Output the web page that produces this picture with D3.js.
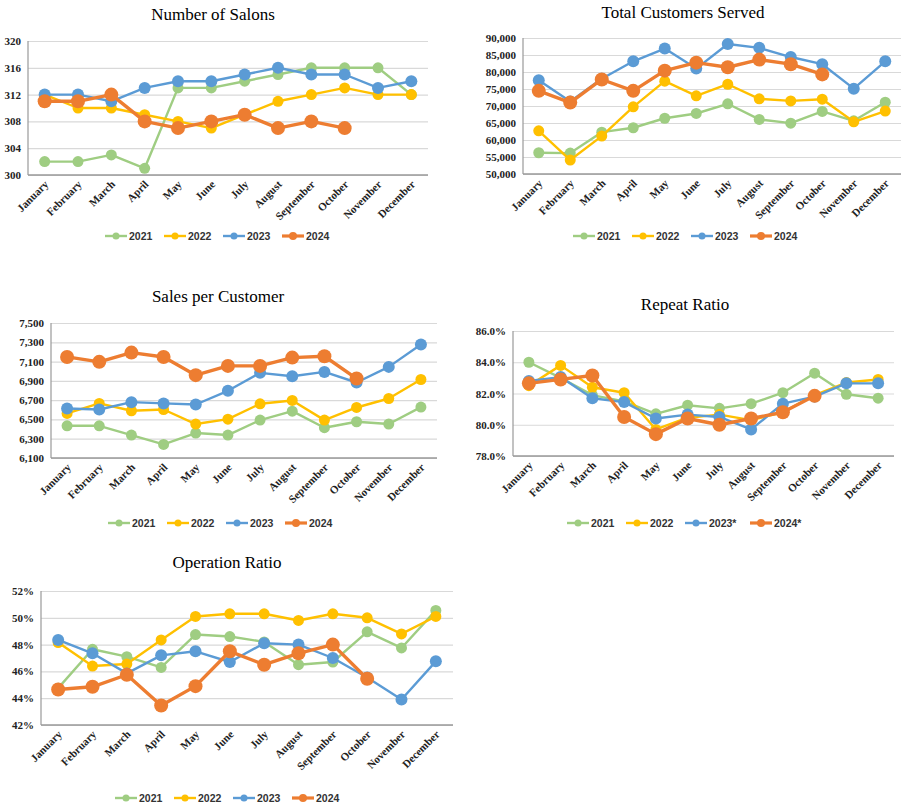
<!DOCTYPE html>
<html><head><meta charset="utf-8">
<script src="https://cdn.jsdelivr.net/npm/d3@7"></script>
<style>body{margin:0;background:#fff}svg{display:block}</style>
</head><body>
<svg id="c" width="908" height="811"></svg>
<script>
const months = ["January","February","March","April","May","June","July","August","September","October","November","December"];
const years = ["2021","2022","2023","2024"];
const yearsStar = ["2021","2022","2023*","2024*"];

// Number of Salons
const salons2021 = [302,302,303,301,313,313,314,315,316,316,316,312];
const salons2022 = [312,310,310,309,308,307,309,311,312,313,312,312];
const salons2023 = [312,312,311,313,314,314,315,316,315,315,313,314];
const salons2024 = [311,311,312,308,307,308,309,307,308,307];
const salonsTicks = [300,304,308,312,316,320];

// Total Customers Served
const cust2021 = [56250,56150,62300,63600,66400,67800,70650,66050,64950,68400,65650,71100];
const cust2022 = [62700,54100,61150,69750,77300,73000,76400,72100,71500,72000,65350,68500];
const cust2023 = [77600,71300,78000,83150,86900,81000,88250,87100,84400,82300,75100,83150];
const cust2024 = [74450,71000,77800,74450,80400,82750,81400,83650,82300,79300];
const custTicks = [50000,55000,60000,65000,70000,75000,80000,85000,90000];

// Sales per Customer
const spc2021 = [6434,6434,6338,6241,6359,6338,6493,6586,6414,6476,6452,6628];
const spc2022 = [6562,6666,6590,6603,6452,6503,6662,6697,6493,6624,6717,6914];
const spc2023 = [6614,6603,6679,6666,6655,6797,6983,6948,6993,6883,7045,7276];
const spc2024 = [7148,7097,7193,7148,6959,7055,7055,7141,7155,6924];
const spcTicks = [6100,6300,6500,6700,6900,7100,7300,7500];

// Repeat Ratio (%)
const rep2021 = [84.0,83.0,81.9,81.5,80.7,81.25,81.05,81.35,82.05,83.3,81.95,81.7];
const rep2022 = [82.5,83.8,82.4,82.05,79.7,80.45,80.65,80.3,80.8,81.9,82.7,82.9];
const rep2023 = [82.8,83.05,81.7,81.45,80.4,80.65,80.5,79.7,81.35,81.8,82.65,82.65];
const rep2024 = [82.65,82.9,83.15,80.5,79.4,80.4,80.0,80.4,80.8,81.85];
const repTicks = [78,80,82,84,86];

// Operation Ratio (%)
const op2021 = [44.75,47.65,47.1,46.3,48.75,48.6,48.2,46.5,46.7,48.95,47.75,50.55];
const op2022 = [48.15,46.4,46.55,48.35,50.1,50.3,50.3,49.8,50.3,50.0,48.8,50.1];
const op2023 = [48.35,47.35,45.85,47.2,47.5,46.7,48.1,48.0,47.0,45.55,43.9,46.75];
const op2024 = [44.65,44.85,45.75,43.45,44.9,47.5,46.5,47.35,48.0,45.45];
const opTicks = [42,44,46,48,50,52];

const colors = ["#9fcd82","#ffc000","#5b9bd5","#ed7d31"];
const svg = d3.select("#c");

function drawChart(o){
  const g = svg.append("g");
  const x = d3.scalePoint().domain(months).range([o.x0,o.x1]).padding(0.5);
  const y = d3.scaleLinear().domain(d3.extent(o.ticks)).range([o.y1,o.y0]);
  g.append("text").attr("x",o.tx).attr("y",o.ty).attr("text-anchor","middle")
    .attr("font-family","Liberation Serif, Times New Roman, serif").attr("font-size",17)
    .attr("fill","#000").text(o.title);
  const ya = g.append("g").attr("transform",`translate(${o.x0},0)`)
    .call(d3.axisLeft(y).tickValues(o.ticks).tickSize(-(o.x1-o.x0)).tickFormat(o.fmt));
  ya.select(".domain").remove();
  ya.selectAll(".tick line").attr("stroke","#d9d9d9").attr("stroke-width",1.2);
  ya.selectAll(".tick text").attr("x",-7).attr("font-family","Liberation Serif, serif")
    .attr("font-weight","bold").attr("font-size",11).attr("fill","#222");
  g.append("line").attr("x1",o.x0).attr("x2",o.x0).attr("y1",o.y0).attr("y2",o.y1)
    .attr("stroke","#999").attr("stroke-width",1.2);
  const xa = g.append("g").attr("transform",`translate(0,${o.y1})`)
    .call(d3.axisBottom(x).tickSize(0));
  xa.select(".domain").attr("stroke","#999").attr("stroke-width",1.5)
    .attr("d",`M${o.x0},0H${o.x1}`);
  xa.selectAll(".tick text").attr("font-family","Liberation Serif, serif").attr("font-weight","bold")
    .attr("font-size",11).attr("fill","#222").attr("text-anchor","end")
    .attr("dy",0).attr("y",0)
    .attr("transform","translate(4,10) rotate(-45)");
  o.series.forEach((s,i)=>{
    const pts = s.map((v,j)=>[months[j],v]);
    const main = i===3;
    g.append("path").datum(pts).attr("fill","none").attr("stroke",colors[i])
      .attr("stroke-width",main?3.4:2.4).attr("stroke-linejoin","round")
      .attr("d",d3.line().x(d=>x(d[0])).y(d=>y(d[1])));
    g.selectAll(null).data(pts).enter().append("circle")
      .attr("cx",d=>x(d[0])).attr("cy",d=>y(d[1])).attr("r",main?7:(i===2?6:5.5))
      .attr("fill",colors[i]);
  });
  const labels = o.legend;
  const widths = labels.map(l=>22+3+l.length*6+10);
  const total = d3.sum(widths)-10;
  let lx = o.lx - total/2;
  labels.forEach((l,i)=>{
    const lg = g.append("g").attr("transform",`translate(${lx},${o.ly})`);
    lg.append("line").attr("x1",0).attr("x2",22).attr("stroke",colors[i]).attr("stroke-width",i===3?3.2:2.4);
    lg.append("circle").attr("cx",11).attr("r",i===3?4:3.5).attr("fill",colors[i]);
    lg.append("text").attr("x",24).attr("dy","0.35em").attr("font-family","Liberation Sans, Arial, sans-serif")
      .attr("font-weight","bold").attr("font-size",10.5).attr("fill","#333").text(l);
    lx += widths[i];
  });
}

drawChart({title:"Number of Salons",tx:213,ty:20,x0:28,x1:428,y0:41,y1:175,ticks:salonsTicks,
  fmt:d3.format("d"),series:[salons2021,salons2022,salons2023,salons2024],legend:years,lx:218,ly:236});
drawChart({title:"Total Customers Served",tx:683,ty:18,x0:523,x1:901,y0:38,y1:174,ticks:custTicks,
  fmt:d3.format(","),series:[cust2021,cust2022,cust2023,cust2024],legend:years,lx:686,ly:236});
drawChart({title:"Sales per Customer",tx:218,ty:302,x0:51,x1:437,y0:323,y1:458,ticks:spcTicks,
  fmt:d3.format(","),series:[spc2021,spc2022,spc2023,spc2024],legend:years,lx:221,ly:523});
drawChart({title:"Repeat Ratio",tx:685,ty:310,x0:513,x1:894,y0:331,y1:456,ticks:repTicks,
  fmt:d=>d.toFixed(1)+"%",series:[rep2021,rep2022,rep2023,rep2024],legend:yearsStar,lx:686,ly:523});
drawChart({title:"Operation Ratio",tx:227,ty:568,x0:41,x1:453,y0:591,y1:725,ticks:opTicks,
  fmt:d=>d+"%",series:[op2021,op2022,op2023,op2024],legend:years,lx:228,ly:798});
</script>
</body></html>
